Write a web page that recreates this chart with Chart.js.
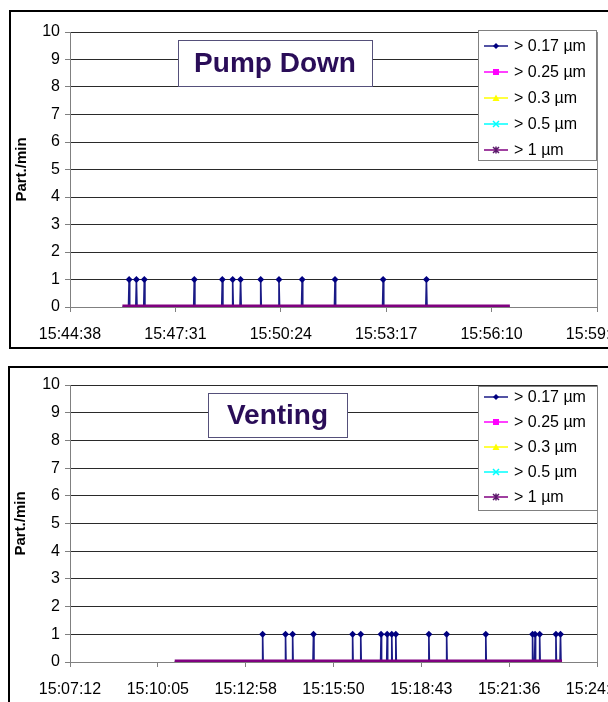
<!DOCTYPE html>
<html><head><meta charset="utf-8">
<script src="https://cdn.jsdelivr.net/npm/chart.js@4/dist/chart.umd.min.js"></script>
<style>
html,body{margin:0;padding:0;background:#fff;overflow:hidden;width:608px;height:702px;}
.panel{position:absolute;border:2px solid #000;background:#fff;overflow:hidden;}
#p1{left:9px;top:10px;width:640px;height:335px;}
#p2{left:8px;top:366px;width:640px;height:340px;}
canvas{display:block;}
</style></head><body>
<div class="panel" id="p1"><canvas id="c1" width="640" height="335"></canvas></div>
<div class="panel" id="p2"><canvas id="c2" width="640" height="340"></canvas></div>
<script>
// ---------- DATA ----------
const seriesLabels = ['> 0.17 \u00b5m', '> 0.25 \u00b5m', '> 0.3 \u00b5m', '> 0.5 \u00b5m', '> 1 \u00b5m'];
const yTickLabels = ['0','1','2','3','4','5','6','7','8','9','10'];

// Pump Down
const pumpTitle = 'Pump Down';
const pumpXTickLabels = ['15:44:38','15:47:31','15:50:24','15:53:17','15:56:10','15:59:03'];
const pumpXStepSec = 173;
const pumpT017 = ['15:46:04',
  '15:46:14','15:46:15','15:46:16',
  '15:46:26','15:46:27','15:46:28',
  '15:46:39','15:46:40','15:46:41',
  '15:48:01','15:48:02','15:48:03',
  '15:48:47','15:48:48','15:48:49',
  '15:49:04','15:49:05','15:49:06',
  '15:49:17','15:49:18','15:49:19',
  '15:49:50','15:49:51','15:49:52',
  '15:50:20','15:50:21','15:50:22',
  '15:50:58','15:50:59','15:51:00',
  '15:51:52','15:51:53','15:51:54',
  '15:53:11','15:53:12','15:53:13',
  '15:54:22','15:54:23','15:54:24',
  '15:56:40'];
const pumpV017 = [0, 0,1,0, 0,1,0, 0,1,0, 0,1,0, 0,1,0, 0,1,0, 0,1,0, 0,1,0, 0,1,0, 0,1,0, 0,1,0, 0,1,0, 0,1,0, 0];
const pumpTOther = ['15:46:04','15:56:40'];
const pumpV025 = [0,0];
const pumpV03  = [0,0];
const pumpV05  = [0,0];
const pumpV1   = [0,0];

// Venting
const ventTitle = 'Venting';
const ventXTickLabels = ['15:07:12','15:10:05','15:12:58','15:15:50','15:18:43','15:21:36','15:24:29'];
const ventXStepSec = 172.8;
const ventT017 = ['15:10:38',
  '15:13:30','15:13:31','15:13:32',
  '15:14:15','15:14:16','15:14:17',
  '15:14:29','15:14:30','15:14:31',
  '15:15:10','15:15:11','15:15:12',
  '15:16:27','15:16:28','15:16:29',
  '15:16:43','15:16:44','15:16:45',
  '15:17:23','15:17:24','15:17:25',
  '15:17:35','15:17:36','15:17:37',
  '15:17:44','15:17:45','15:17:46',
  '15:17:52','15:17:53','15:17:54',
  '15:18:57','15:18:58','15:18:59',
  '15:19:32','15:19:33','15:19:34',
  '15:20:49','15:20:50','15:20:51',
  '15:22:21','15:22:22','15:22:23',
  '15:22:26','15:22:27','15:22:28',
  '15:22:35','15:22:36','15:22:37',
  '15:23:07','15:23:08','15:23:09',
  '15:23:16','15:23:17','15:23:18',
  '15:23:20'];
const ventV017 = [0, 0,1,0, 0,1,0, 0,1,0, 0,1,0, 0,1,0, 0,1,0, 0,1,0, 0,1,0, 0,1,0, 0,1,0, 0,1,0, 0,1,0, 0,1,0, 0,1,0, 0,1,0, 0,1,0, 0,1,0, 0,1,0, 0];
const ventTOther = ['15:10:38','15:23:20'];
const ventV025 = [0,0];
const ventV03  = [0,0];
const ventV05  = [0,0];
const ventV1   = [0,0];

// ---------- HELPERS ----------
function toSec(s){ const p=s.split(':').map(Number); return p[0]*3600+p[1]*60+p[2]; }
function pts(times, vals){ return times.map((t,i)=>({x:toSec(t), y:vals[i]})); }

const seriesColors = ['#1a1a86', '#ff00ff', '#ffff00', '#00ffff', '#800080'];
const seriesMarkers = ['diamond', 'square', 'triangle', 'x', 'star'];

function drawMarker(ctx, type, x, y, color){
  ctx.save();
  ctx.fillStyle = color; ctx.strokeStyle = color; ctx.lineWidth = 1.5;
  ctx.beginPath();
  if (type==='diamond'){ ctx.moveTo(x,y-3); ctx.lineTo(x+3,y); ctx.lineTo(x,y+3); ctx.lineTo(x-3,y); ctx.closePath(); ctx.fill(); }
  else if (type==='square'){ ctx.fillRect(x-3,y-3,6,6); }
  else if (type==='triangle'){ ctx.moveTo(x,y-3.5); ctx.lineTo(x+3.5,y+3); ctx.lineTo(x-3.5,y+3); ctx.closePath(); ctx.fill(); }
  else if (type==='x'){ ctx.moveTo(x-3,y-3); ctx.lineTo(x+3,y+3); ctx.moveTo(x+3,y-3); ctx.lineTo(x-3,y+3); ctx.stroke(); }
  else if (type==='star'){ ctx.moveTo(x-3,y-3); ctx.lineTo(x+3,y+3); ctx.moveTo(x+3,y-3); ctx.lineTo(x-3,y+3); ctx.moveTo(x,y-3.5); ctx.lineTo(x,y+3.5); ctx.stroke(); }
  ctx.restore();
}

const overlayPlugin = {
  id: 'overlay',
  afterDraw(chart, args, o) {
    const ctx = chart.ctx, a = chart.chartArea;
    ctx.save();
    // plot area right border
    ctx.strokeStyle = '#8a8a8a'; ctx.lineWidth = 1;
    ctx.beginPath(); ctx.moveTo(Math.round(a.right)+0.5, a.top); ctx.lineTo(Math.round(a.right)+0.5, a.bottom); ctx.stroke();
    // title box
    const t = o.titleBox;
    ctx.fillStyle = '#fff'; ctx.fillRect(t.x, t.y, t.w, t.h);
    ctx.strokeStyle = '#55507a'; ctx.lineWidth = 1; ctx.strokeRect(t.x+0.5, t.y+0.5, t.w, t.h);
    ctx.fillStyle = '#2a0d58'; ctx.font = 'bold 28px "Liberation Sans", Arial, sans-serif';
    ctx.textAlign = 'center'; ctx.textBaseline = 'middle';
    ctx.fillText(o.titleText, t.x + t.w/2, t.y + t.h/2 + 1);
    // legend box
    const l = o.legendBox;
    ctx.fillStyle = '#fff'; ctx.fillRect(l.x, l.y, l.w, l.h);
    ctx.strokeStyle = '#808080'; ctx.strokeRect(l.x+0.5, l.y+0.5, l.w, l.h);
    ctx.font = '16px "Liberation Sans", Arial, sans-serif';
    ctx.textAlign = 'left'; ctx.textBaseline = 'middle';
    chart.data.datasets.forEach((ds, i) => {
      const yy = l.y + l.firstRow + i * l.rowGap;
      const x0 = l.x + 6, x1 = l.x + 30;
      ctx.strokeStyle = ds.borderColor; ctx.lineWidth = 1.5;
      ctx.beginPath(); ctx.moveTo(x0, yy); ctx.lineTo(x1, yy); ctx.stroke();
      drawMarker(ctx, ds.legendMarker, (x0+x1)/2, yy, ds.markerColor || ds.borderColor);
      ctx.fillStyle = '#000';
      ctx.fillText(ds.label, l.x + 36, yy + 1);
    });
    ctx.restore();
  }
};

function makeChart(id, cfg){
  const W = cfg.W, H = cfg.H;
  const tickVals = cfg.xLabels.map((_, i) => cfg.xMin + i * cfg.xStep);
  const ds = [
    {label: seriesLabels[0], data: pts(cfg.t017, cfg.v017), borderColor: seriesColors[0], backgroundColor: '#000080',
     borderWidth: 1.6, legendMarker: seriesMarkers[0], markerColor: '#000080', order: 4,
     pointStyle: 'rectRot', pointRadius: c => (c.raw && c.raw.y > 0 ? 3.5 : 0), pointBorderWidth: 0},
    {label: seriesLabels[1], data: pts(cfg.tOther, cfg.v025), borderColor: seriesColors[1], borderWidth: 1.5, pointRadius: 0, legendMarker: seriesMarkers[1], order: 3},
    {label: seriesLabels[2], data: pts(cfg.tOther, cfg.v03), borderColor: seriesColors[2], borderWidth: 1.5, pointRadius: 0, legendMarker: seriesMarkers[2], order: 2},
    {label: seriesLabels[3], data: pts(cfg.tOther, cfg.v05), borderColor: seriesColors[3], borderWidth: 1.5, pointRadius: 0, legendMarker: seriesMarkers[3], order: 1},
    {label: seriesLabels[4], data: pts(cfg.tOther, cfg.v1), borderColor: seriesColors[4], borderWidth: 5, pointRadius: 0, legendMarker: seriesMarkers[4], markerColor: '#5a1a6a', order: 0, borderCapStyle: 'butt'}
  ];
  return new Chart(document.getElementById(id), {
    type: 'scatter',
    data: { datasets: ds.map(d => Object.assign({showLine: true, tension: 0, fill: false}, d)) },
    plugins: [overlayPlugin],
    options: {
      responsive: false, animation: false, devicePixelRatio: 1,
      layout: { padding: { left: 0, top: cfg.area.top, right: W - cfg.area.right, bottom: 0 } },
      plugins: {
        legend: { display: false }, tooltip: { enabled: false },
        overlay: { titleText: cfg.title, titleBox: cfg.titleBox, legendBox: cfg.legendBox }
      },
      scales: {
        x: {
          type: 'linear', min: cfg.xMin, max: cfg.xMin + (cfg.xLabels.length - 1) * cfg.xStep,
          afterBuildTicks: s => { s.ticks = tickVals.map(v => ({value: v})); },
          afterFit: s => { s.height = H - cfg.area.bottom; },
          grid: { drawOnChartArea: false, drawTicks: true, tickLength: 5, tickColor: '#808080' },
          border: { display: true, color: '#808080', width: 1 },
          ticks: { autoSkip: false, maxRotation: 0, minRotation: 0, padding: 13, color: '#000',
            font: { family: '"Liberation Sans", Arial, sans-serif', size: 16 },
            callback: (v, i) => cfg.xLabels[i] }
        },
        y: {
          type: 'linear', min: 0, max: 10,
          afterFit: s => { s.width = cfg.area.left; },
          afterBuildTicks: s => { s.ticks = yTickLabels.map(v => ({value: Number(v)})); },
          grid: { color: '#2a2a2a', lineWidth: 1, tickLength: 5, tickColor: '#808080' },
          border: { display: true, color: '#808080', width: 1 },
          ticks: { padding: 5, color: '#000', font: { family: '"Liberation Sans", Arial, sans-serif', size: 16 },
            callback: (v, i) => yTickLabels[i] },
          title: { display: true, text: 'Part./min', color: '#000', padding: { top: 2, bottom: 0 },
            font: { family: '"Liberation Sans", Arial, sans-serif', size: 15, weight: 'bold' } }
        }
      }
    }
  });
}

makeChart('c1', {
  W: 640, H: 335, area: { left: 59, top: 20, right: 586, bottom: 295 },
  xMin: toSec(pumpXTickLabels[0]), xStep: pumpXStepSec, xLabels: pumpXTickLabels,
  t017: pumpT017, v017: pumpV017, tOther: pumpTOther, v025: pumpV025, v03: pumpV03, v05: pumpV05, v1: pumpV1,
  title: pumpTitle, titleBox: { x: 167, y: 28, w: 194, h: 46 },
  legendBox: { x: 467, y: 18, w: 118, h: 130, firstRow: 16, rowGap: 26 }
});
makeChart('c2', {
  W: 640, H: 340, area: { left: 60, top: 17, right: 587, bottom: 294 },
  xMin: toSec(ventXTickLabels[0]), xStep: ventXStepSec, xLabels: ventXTickLabels,
  t017: ventT017, v017: ventV017, tOther: ventTOther, v025: ventV025, v03: ventV03, v05: ventV05, v1: ventV1,
  title: ventTitle, titleBox: { x: 198, y: 25, w: 139, h: 44 },
  legendBox: { x: 468, y: 18, w: 119, h: 124, firstRow: 11, rowGap: 25 }
});
</script>
</body></html>
